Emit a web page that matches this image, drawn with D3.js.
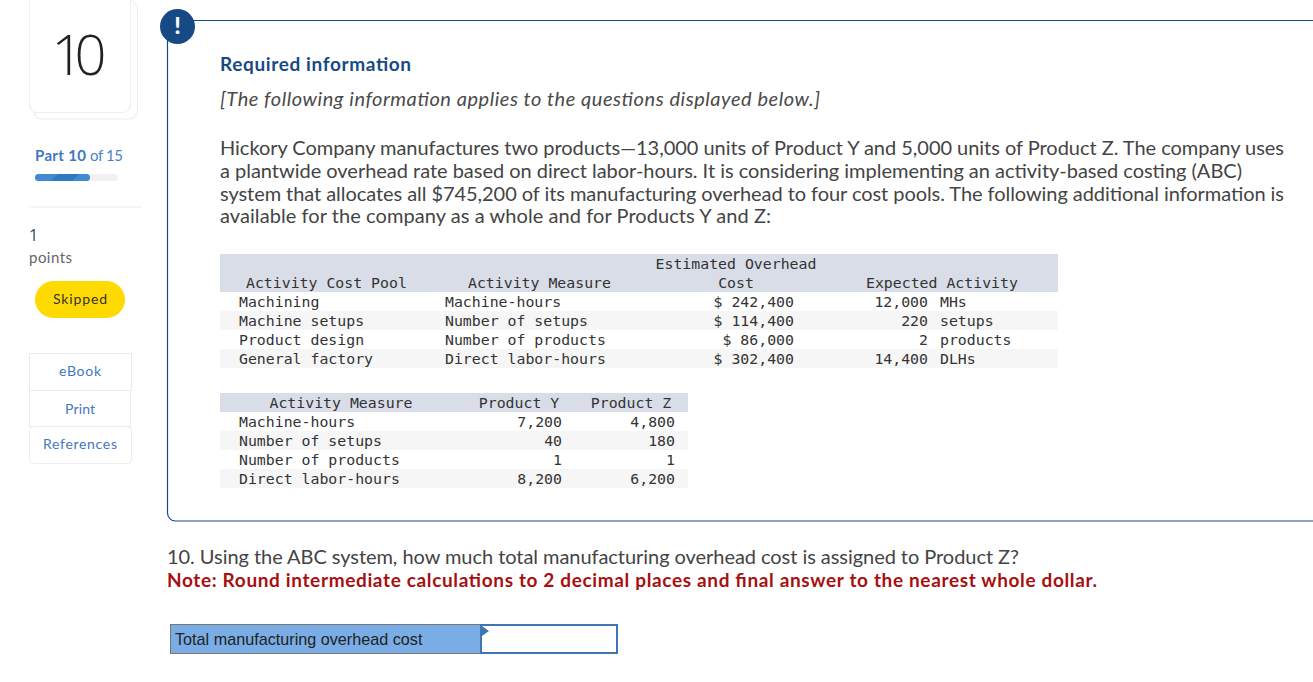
<!DOCTYPE html>
<html><head><meta charset="utf-8">
<script src="https://cdn.jsdelivr.net/npm/d3@7/dist/d3.min.js"></script>
<style>html,body{margin:0;padding:0;background:#fff;overflow:hidden}svg{display:block}</style>
</head><body><svg id="c" width="1313" height="682"></svg>
<script>
const intro = [
 ["Hickory Company manufactures two products—13,000 units of Product Y and 5,000 units of Product Z. The company uses",1064],
 ["a plantwide overhead rate based on direct labor-hours. It is considering implementing an activity-based costing (ABC)",1022],
 ["system that allocates all $745,200 of its manufacturing overhead to four cost pools. The following additional information is",1064],
 ["available for the company as a whole and for Products Y and Z:",551]
];
const pools = ["Machining","Machine setups","Product design","General factory"];
const measures = ["Machine-hours","Number of setups","Number of products","Direct labor-hours"];
const costs = [242400,114400,86000,302400];
const activity = [12000,220,2,14400];
const units = ["MHs","setups","products","DLHs"];
const productY = [7200,40,1,8200];
const productZ = [4800,180,1,6200];

const svg = d3.select("#c");
const sans = "Lato, 'Open Sans', sans-serif", mono = "'DejaVu Sans Mono', monospace";
const fmt = d3.format(",");
function T(x,y,s,o={}){
  const t = svg.append("text").attr("x",x).attr("y",y).text(s)
    .attr("font-family",o.f||sans).attr("font-size",o.s||14).attr("fill",o.c||"#333")
    .attr("text-anchor",o.a||"start").attr("font-weight",o.w||400).attr("font-style",o.i||"normal");
  if(o.l) t.attr("textLength",o.l).attr("lengthAdjust","spacing");
  return t;
}
function R(x,y,w,h,fill,o={}){
  return svg.append("rect").attr("x",x).attr("y",y).attr("width",w).attr("height",h).attr("rx",o.r||0)
    .attr("fill",fill).attr("stroke",o.st||"none").attr("stroke-width",o.sw||1);
}
const navy="#174a84", grey="#ececec";

// left rail
R(33.5,1,104,118,"#fff",{st:"#eeeeee",r:9,sw:1.2});
R(29.5,-10,101,122.5,"#fff",{st:"#eeeeee",r:8,sw:1.2});
T(79,75,"10",{f:"'Open Sans',sans-serif",s:56,w:300,a:"middle",c:"#222",l:55});
T(35,161,"Part 10",{s:15,w:700,c:"#3f78bb",l:51});
T(90,161,"of 15",{s:15,c:"#4a82c4",l:33});
R(35,174,83,7,"#f1f1f1",{r:3.5});
R(35,174,55,7,"#3f8ad2",{r:3.5});
svg.append("path").attr("fill","#2c7abf").attr("d","M51,181L58,174H79L72,181Z");
R(29,206.5,113,1,grey);
T(29,241,"1",{f:"'Open Sans',sans-serif",s:16,c:"#2b4a6f"});
T(29,263,"points",{s:15,c:"#666",l:43});
R(35,281,90,37,"#ffda00",{r:18.5});
T(80,304,"Skipped",{s:14,a:"middle",c:"#333",l:54});
R(29.5,353.5,102,37,"#fff",{st:grey});
R(29.5,390.5,101,36,"#fff",{st:grey});
R(29.5,426.5,102,37,"#fff",{st:grey,r:4});
T(80,376,"eBook",{s:14,a:"middle",c:"#3f78bb",l:42});
T(80,414,"Print",{s:14,a:"middle",c:"#3f78bb",l:30});
T(80,449,"References",{s:14,a:"middle",c:"#3f78bb",l:74});

// notice frame
svg.append("path").attr("fill","none").attr("stroke",navy).attr("stroke-width",1.2)
  .attr("d","M1313,20.5H177M167.5,30V513a8,8 0 0 0 8,8H1313");
svg.append("circle").attr("cx",177.5).attr("cy",26.5).attr("r",17.5).attr("fill",navy);
T(177.5,34,"!",{s:23,w:900,a:"middle",c:"#fff"});
T(220,71,"Required information",{s:19,w:700,c:navy,l:191});
T(220,106,"[The following information applies to the questions displayed below.]",{s:20,i:"italic",c:"#4a4a4a",l:600});
const lineY = d3.scaleBand().domain(intro.map(d=>d[0])).range([137,228]);
intro.forEach(d=>T(220,lineY(d[0])+18,d[0],{s:20,c:"#444",l:d[1]}));

// table 1
const y1 = d3.scaleBand().domain(pools).range([292,368]);
R(220,254,838,38,"#d9dde8");
pools.forEach((p,i)=>{ if(i%2) R(220,y1(p),838,y1.bandwidth(),"#f6f6f6"); });
const m={f:mono,s:14.85,c:"#333"};
T(246,288,"Activity Cost Pool",m);
T(468,288,"Activity Measure",m);
T(736,269,"Estimated Overhead",{...m,a:"middle"});
T(736,288,"Cost",{...m,a:"middle"});
T(866,288,"Expected Activity",m);
pools.forEach((p,i)=>{
  const y=y1(p)+15;
  T(239,y,p,m);
  T(445,y,measures[i],m);
  T(794,y,"$ "+fmt(costs[i]),{...m,a:"end"});
  T(928,y,fmt(activity[i]),{...m,a:"end"});
  T(940,y,units[i],m);
});

// table 2
const y2 = d3.scaleBand().domain(measures).range([412,488]);
R(220,393,468,19,"#d9dde8");
measures.forEach((p,i)=>{ if(i%2) R(220,y2(p),468,y2.bandwidth(),"#f6f6f6"); });
T(341,408,"Activity Measure",{...m,a:"middle"});
T(519,408,"Product Y",{...m,a:"middle"});
T(631,408,"Product Z",{...m,a:"middle"});
measures.forEach((p,i)=>{
  const y=y2(p)+15;
  T(239,y,p,m);
  T(562,y,fmt(productY[i]),{...m,a:"end"});
  T(675,y,fmt(productZ[i]),{...m,a:"end"});
});

// question
T(167,564,"10. Using the ABC system, how much total manufacturing overhead cost is assigned to Product Z?",{s:20,c:"#444",l:852});
T(167,587,"Note: Round intermediate calculations to 2 decimal places and final answer to the nearest whole dollar.",{s:19,w:700,c:"#a80f0f",l:930});

// answer row
R(170.5,624.5,447,29,"#fff",{st:"#777"});
R(171,625,310,28,"#7aade6");
R(481,625,136,28,"#fff",{st:"#3f74b5",sw:2});
T(175,645,"Total manufacturing overhead cost",{f:"'Liberation Sans',Arial,sans-serif",s:16.2,c:"#222"});
svg.append("path").attr("fill","#3f74b5").attr("d","M482,626L489,631L482,636Z");
</script></body></html>
